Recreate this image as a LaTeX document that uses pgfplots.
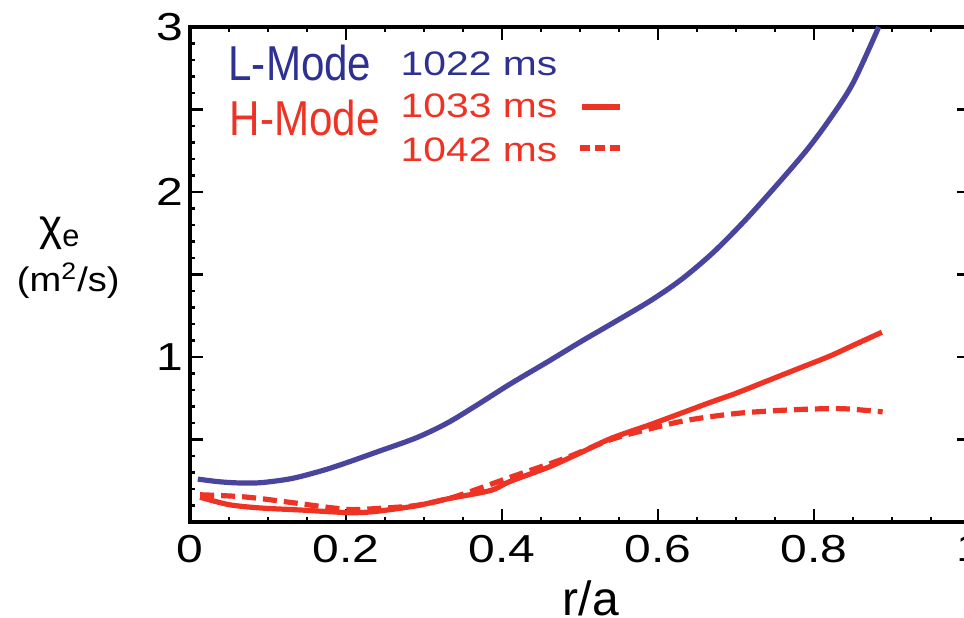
\documentclass[border=0pt]{standalone}
\usepackage{fontspec}
\setmainfont{Liberation Sans}
\usepackage{graphicx}
\usepackage{pgfplots}
\pgfplotsset{compat=1.18}
\definecolor{lblue}{RGB}{73,69,158}
\definecolor{tblue}{RGB}{46,49,146}
\definecolor{hred}{RGB}{238,50,36}
\newcommand{\sx}[1]{\scalebox{1.23}[1]{#1}}
\newcommand{\tfont}{\fontsize{19.5}{20}\selectfont}

\begin{document}
\begin{tikzpicture}
\begin{axis}[
  name=ax,
  scale only axis,
  width=390pt, height=247.5pt,
  xmin=0, xmax=1, ymin=0, ymax=3,
  xtick={0,0.2,0.4,0.6,0.8,1},
  xticklabels={\sx{0},\sx{0.2},\sx{0.4},\sx{0.6},\sx{0.8},\sx{1}},
  minor x tick num=3,
  ytick={0,0.5,1,1.5,2,2.5,3},
  yticklabels={,,\sx{1},,\sx{2},,\sx{3}},
  minor y tick num=4,
  tick pos=both,
  major tick length=6.5pt,
  minor tick length=2.5pt,
  tick style={line width=1.3pt, black},
  axis line style={line width=1.6pt},
  tick label style={font=\tfont},
  xticklabel style={yshift=-3pt},
  clip=false,
]
% L-mode, 1022 ms
\addplot[lblue, line width=2.6pt, smooth] coordinates {
  (0.01,0.26) (0.035,0.245) (0.06,0.237) (0.09,0.238) (0.13,0.263)
  (0.17,0.312) (0.20,0.358) (0.24,0.425) (0.29,0.51) (0.33,0.60)
  (0.37,0.715) (0.41,0.835) (0.46,0.975) (0.50,1.09) (0.54,1.20)
  (0.59,1.34) (0.63,1.47) (0.67,1.63) (0.71,1.82) (0.75,2.03)
  (0.79,2.25) (0.82,2.44) (0.85,2.66) (0.883,3.0)
};
% H-mode, 1033 ms
\addplot[hred, line width=2.6pt, smooth] coordinates {
  (0.013,0.15) (0.05,0.105) (0.09,0.085) (0.14,0.073) (0.18,0.062)
  (0.21,0.056) (0.24,0.065) (0.29,0.098) (0.33,0.14) (0.37,0.175)
  (0.39,0.198) (0.41,0.245) (0.46,0.333) (0.50,0.418) (0.54,0.507)
  (0.59,0.59) (0.63,0.66) (0.67,0.73) (0.70,0.78) (0.74,0.855)
  (0.78,0.93) (0.82,1.005) (0.85,1.07) (0.887,1.15)
};
% H-mode, 1042 ms
\addplot[hred, line width=2.6pt, smooth, dash pattern=on 7pt off 3.5pt] coordinates {
  (0.013,0.165) (0.07,0.152) (0.13,0.118) (0.18,0.087) (0.21,0.075)
  (0.25,0.085) (0.29,0.10) (0.33,0.14) (0.36,0.185) (0.41,0.27)
  (0.48,0.385) (0.54,0.50) (0.59,0.565) (0.63,0.61) (0.67,0.64)
  (0.71,0.662) (0.76,0.677) (0.80,0.685) (0.84,0.686) (0.888,0.667)
};

\node[text=tblue, font=\fontsize{24.5}{25}\selectfont] at (rel axis cs:0.141,0.928) {\scalebox{0.86}[1]{L-Mode}};
\node[text=hred, font=\fontsize{24.5}{25}\selectfont] at (rel axis cs:0.147,0.817) {\scalebox{0.86}[1]{H-Mode}};
\node[text=tblue, font=\fontsize{17}{17}\selectfont] at (rel axis cs:0.3705,0.926) {\scalebox{1.2}[1]{1022 ms}};
\node[text=hred, font=\fontsize{17}{17}\selectfont] at (rel axis cs:0.3705,0.841) {\scalebox{1.2}[1]{1033 ms}};
\node[text=hred, font=\fontsize{17}{17}\selectfont] at (rel axis cs:0.3705,0.7525) {\scalebox{1.2}[1]{1042 ms}};
\draw[hred, line width=2.8pt] (rel axis cs:0.5026,0.838) -- (rel axis cs:0.551,0.838);
\draw[hred, line width=2.8pt, dash pattern=on 5pt off 2.5pt] (rel axis cs:0.5,0.7556) -- (rel axis cs:0.551,0.7556);

\node[font=\fontsize{22}{22}\selectfont] at (rel axis cs:-0.1667,0.584) {χ\textsubscript{e}};
\node[font=\fontsize{17}{17}\selectfont] at (rel axis cs:-0.156,0.487) {\scalebox{1.12}[1]{(m\textsuperscript{2}/s)}};
\node[font=\fontsize{24}{24}\selectfont, anchor=base] at (rel axis cs:0.514,-0.188) {r/a};
\end{axis}
\pgfresetboundingbox
\useasboundingbox ([shift={(-95pt,-48pt)}]ax.south west) rectangle ([shift={(-3pt,13.5pt)}]ax.north east);
\end{tikzpicture}
\end{document}
